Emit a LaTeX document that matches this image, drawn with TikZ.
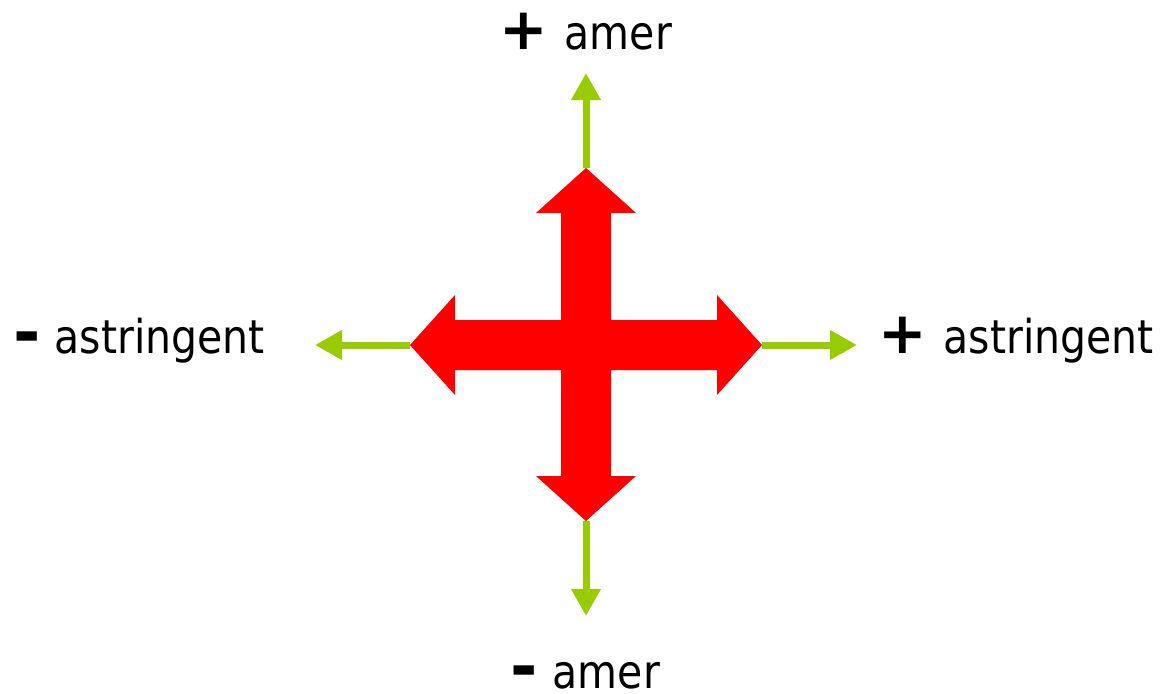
\documentclass[tikz,border=0pt]{standalone}
\usepackage{fontspec}
\setmainfont{DejaVu Sans}[FakeStretch=0.88]
\newfontfamily\signfont{DejaVu Sans}
\usetikzlibrary{arrows.meta}
\definecolor{arrred}{HTML}{FF0000}
\definecolor{arrgreen}{HTML}{99CC00}
\tikzset{
  greenarrow/.style={draw=arrgreen, line width=7pt, -{Triangle[length=27pt,width=28pt]}},
  word/.style={inner sep=0pt, anchor=base west, font=\fontsize{46.6}{50}\selectfont},
  signtext/.style={inner sep=0pt, anchor=base, font=\signfont\bfseries\fontsize{58}{62}\selectfont},
  minustext/.style={inner sep=0pt, anchor=base, font=\signfont\bfseries\fontsize{66}{70}\selectfont}
}
\begin{document}
\begin{tikzpicture}[x=1pt,y=-1pt]
\useasboundingbox (0,0) rectangle (1163,694);
% tips of the red cross
\coordinate (tipT) at (586,168);
\coordinate (tipB) at (586,521);
\coordinate (tipL) at (410,345);
\coordinate (tipR) at (762,345);
% ends of the green arrows
\coordinate (endT) at (586,73);
\coordinate (endB) at (586,616);
\coordinate (endL) at (315,345);
\coordinate (endR) at (857,345);
\draw[greenarrow] (tipT) -- (endT);
\draw[greenarrow] (tipB) -- (endB);
\draw[greenarrow] (tipL) -- (endL);
\draw[greenarrow] (tipR) -- (endR);
% red four-way arrow
\fill[arrred] (tipT) -- (636,213) -- (611,213) -- (611,320) -- (717,320) -- (717,295)
  -- (tipR) -- (717,395) -- (717,370) -- (611,370) -- (611,476) -- (636,476)
  -- (tipB) -- (536,476) -- (561,476) -- (561,370) -- (455,370) -- (455,395)
  -- (tipL) -- (455,295) -- (455,320) -- (561,320) -- (561,213) -- (536,213) -- cycle;
% labels
\node[signtext] (sT) at (524,49) {+};
\node[word] (wT) at (564.5,49) {amer};
\node[minustext] (sB) at (524.5,689) {-};
\node[word] (wB) at (552.5,688) {amer};
\node[minustext] (sL) at (27.5,355) {-};
\node[word] (wL) at (54.5,353) {astringent};
\node[signtext] (sR) at (903,353) {+};
\node[word] (wR) at (943.5,353) {astringent};
\end{tikzpicture}
\end{document}
